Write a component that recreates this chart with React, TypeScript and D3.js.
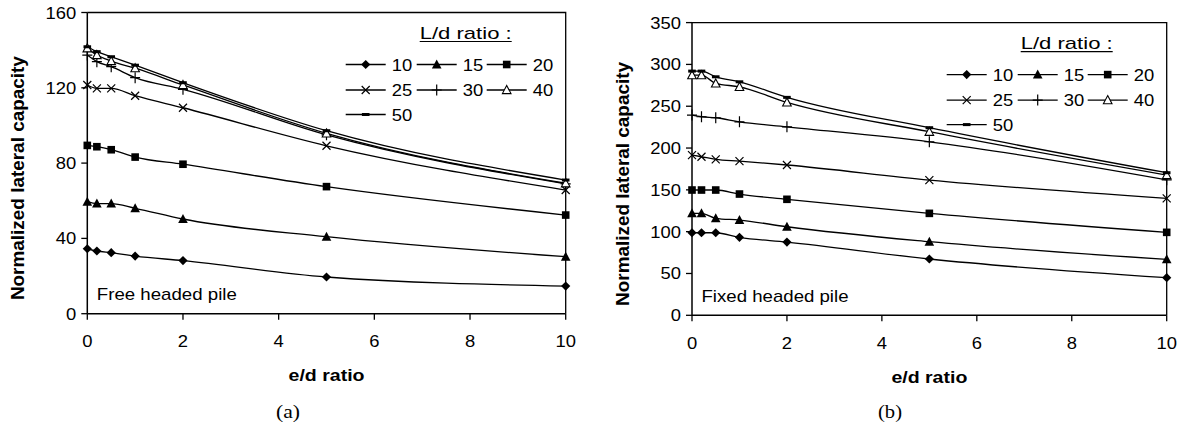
import React from "react";
import * as d3 from "d3";

const ED_RATIO = [0, 0.2, 0.5, 1, 2, 5, 10];
const LD_LABELS = ["10", "15", "20", "25", "30", "40", "50"];
const MARKERS = ["diamond", "triangle", "square", "x", "plus", "otriangle", "dash"];

const FREE_10 = [34.5, 33.3, 32.4, 30.6, 28.2, 19.5, 14.7];
const FREE_15 = [59.5, 58.5, 58.5, 56, 50.3, 40.9, 30.3];
const FREE_20 = [89.4, 88.7, 87.1, 83.2, 79.4, 67.5, 52.4];
const FREE_25 = [121.5, 119.7, 119.7, 115.8, 109.4, 89.2, 65.7];
const FREE_30 = [137.4, 133.9, 131.2, 125.4, 119.2, 95, 69];
const FREE_40 = [141, 137.4, 134.2, 130.4, 121.5, 95.8, 69.3];
const FREE_50 = [141.8, 139.2, 136.5, 132, 122.7, 97.2, 71];

const FIXED_10 = [98.7, 98.7, 98.7, 93.2, 87.6, 67.3, 45];
const FIXED_15 = [121.9, 121.9, 116, 113.9, 105.9, 88, 66.9];
const FIXED_20 = [149.8, 149.8, 149.8, 145, 138.7, 121.9, 99.2];
const FIXED_25 = [191.6, 189.6, 186.5, 184.4, 179.7, 161.7, 139.8];
const FIXED_30 = [239.4, 237.4, 236.2, 231.4, 225.4, 207.5, 162];
const FIXED_40 = [287.2, 287.2, 277.3, 273.2, 254.6, 219.5, 167.7];
const FIXED_50 = [292, 292, 285.2, 279.2, 260.6, 224.3, 170.5];

const X_TICKS = [0, 2, 4, 6, 8, 10];
const FREE_Y_TICKS = [0, 40, 80, 120, 160];
const FIXED_Y_TICKS = [0, 50, 100, 150, 200, 250, 300, 350];

const FONT = "'Liberation Sans', Arial, sans-serif";
const SX = 1.15;

function Marker({ type, x, y }: { type: string; x: number; y: number }) {
  const t = `translate(${x},${y})`;
  switch (type) {
    case "diamond":
      return <path transform={t} d="M0,-4.6L4.6,0L0,4.6L-4.6,0Z" fill="#000" />;
    case "triangle":
      return <path transform={t} d="M0,-5L4.8,4L-4.8,4Z" fill="#000" />;
    case "square":
      return <rect transform={t} x={-3.8} y={-3.8} width={7.6} height={7.6} fill="#000" />;
    case "x":
      return <path transform={t} d="M-4,-4L4,4M-4,4L4,-4" stroke="#000" strokeWidth={1.2} fill="none" />;
    case "plus":
      return <path transform={t} d="M-5,0L5,0M0,-5.5L0,5.5" stroke="#000" strokeWidth={1.2} fill="none" />;
    case "otriangle":
      return <path transform={t} d="M0,-4.5L4.3,3.6L-4.3,3.6Z" fill="#fff" stroke="#000" strokeWidth={1.1} />;
    case "dash":
      return <rect transform={t} x={-3.8} y={-1.5} width={7.6} height={3} fill="#000" />;
    default:
      return null;
  }
}

function SText(props: any) {
  const { x, y, children, anchor = "start", size = 16, weight = "normal", sx = SX, len } = props;
  return (
    <g transform={`translate(${x},${y}) scale(${sx},1)`}>
      <text
        x={0}
        y={0}
        textAnchor={anchor}
        fontFamily={FONT}
        fontSize={size}
        fontWeight={weight}
        fill="#000"
        textLength={len ? len / sx : undefined}
        lengthAdjust={len ? "spacingAndGlyphs" : undefined}
      >
        {children}
      </text>
    </g>
  );
}

function Panel(props: any) {
  const { x0, x1, yTop, yBot, yMax, yTicks, series, note, noteLen, tag, tagX } = props;
  const xs = d3.scaleLinear().domain([0, 10]).range([x0, x1]);
  const ys = d3.scaleLinear().domain([0, yMax]).range([yBot, yTop]);
  const line = d3
    .line<number>()
    .x((_, i) => xs(ED_RATIO[i]))
    .y((v) => ys(v))
    .curve(d3.curveMonotoneX);
  const cx = (x0 + x1) / 2;
  const cy = (yTop + yBot) / 2 + 15;
  const legX = x1 - 220;
  const colOff = [0, 71, 141];
  const rowOff = [52, 77.5, 102];
  return (
    <g>
      {/* frame */}
      <path d={`M${x0},${yTop}H${x1}V${yBot}`} fill="none" stroke="#000" strokeWidth={1.3} />
      <line x1={x0} x2={x0} y1={yTop} y2={yBot} stroke="#000" strokeWidth={1.5} />
      <line x1={x0} x2={x1} y1={yBot} y2={yBot} stroke="#000" strokeWidth={1.5} />
      {/* y ticks */}
      {yTicks.map((t: number) => (
        <g key={"y" + t}>
          <line x1={x0 - 6} x2={x0} y1={ys(t)} y2={ys(t)} stroke="#000" strokeWidth={1.3} />
          <SText x={x0 - 11} y={ys(t) + 6} anchor="end">
            {t}
          </SText>
        </g>
      ))}
      {/* x ticks */}
      {X_TICKS.map((t) => (
        <g key={"x" + t}>
          <line x1={xs(t)} x2={xs(t)} y1={yBot} y2={yBot + 6} stroke="#000" strokeWidth={1.3} />
          <SText x={xs(t)} y={yBot + 33.5} anchor="middle">
            {t}
          </SText>
        </g>
      ))}
      {/* series */}
      {series.map((vals: number[], si: number) => (
        <g key={"s" + si}>
          <path d={line(vals) || ""} fill="none" stroke="#000" strokeWidth={1.3} />
          {vals.map((v, i) => (
            <Marker key={i} type={MARKERS[si]} x={xs(ED_RATIO[i])} y={ys(v)} />
          ))}
        </g>
      ))}
      {/* legend */}
      <SText x={x1 - 146} y={yTop + 26.5} len={92}>
        {"L/d  ratio :"}
      </SText>
      <line x1={x1 - 146} x2={x1 - 54} y1={yTop + 29} y2={yTop + 29} stroke="#000" strokeWidth={1.1} />
      {LD_LABELS.map((lab, i) => {
        const lx = legX + colOff[i % 3];
        const ly = yTop + rowOff[Math.floor(i / 3)];
        return (
          <g key={"l" + i}>
            <line x1={lx} x2={lx + 40} y1={ly} y2={ly} stroke="#000" strokeWidth={1.3} />
            <Marker type={MARKERS[i]} x={lx + 20} y={ly} />
            <SText x={lx + 46} y={ly + 6}>
              {lab}
            </SText>
          </g>
        );
      })}
      {/* note */}
      <SText x={x0 + 9.5} y={yBot - 13.8} len={noteLen}>
        {note}
      </SText>
      {/* axis titles */}
      <SText x={cx} y={yBot + 67.5} anchor="middle" weight="bold" size={17}>
        e/d ratio
      </SText>
      <text
        transform={`translate(${x0 - 63},${cy}) rotate(-90)`}
        textAnchor="middle"
        fontFamily={FONT}
        fontWeight="bold"
        fontSize={18.5}
        textLength={244}
        lengthAdjust="spacingAndGlyphs"
      >
        Normalized lateral capacity
      </text>
      <text
        x={tagX}
        y={418}
        textAnchor="middle"
        fontFamily="'Liberation Serif', 'DejaVu Serif', serif"
        fontSize={18}
        textLength={24}
        lengthAdjust="spacingAndGlyphs"
      >
        {tag}
      </text>
    </g>
  );
}

export default function App() {
  return (
    <svg
      width={1192}
      height={437}
      style={{ position: "absolute", left: 0, top: 0, background: "#fff" }}
    >
      <rect x={0} y={0} width={1192} height={437} fill="#fff" />
      <Panel
        x0={87.3}
        x1={565.7}
        yTop={12.5}
        yBot={313.7}
        yMax={160}
        yTicks={FREE_Y_TICKS}
        series={[FREE_10, FREE_15, FREE_20, FREE_25, FREE_30, FREE_40, FREE_50]}
        note="Free headed pile"
        noteLen={140}
        tag="(a)"
        tagX={288}
      />
      <Panel
        x0={692}
        x1={1166.7}
        yTop={22.6}
        yBot={315.3}
        yMax={350}
        yTicks={FIXED_Y_TICKS}
        series={[FIXED_10, FIXED_15, FIXED_20, FIXED_25, FIXED_30, FIXED_40, FIXED_50]}
        note="Fixed headed pile"
        noteLen={147}
        tag="(b)"
        tagX={890}
      />
    </svg>
  );
}
